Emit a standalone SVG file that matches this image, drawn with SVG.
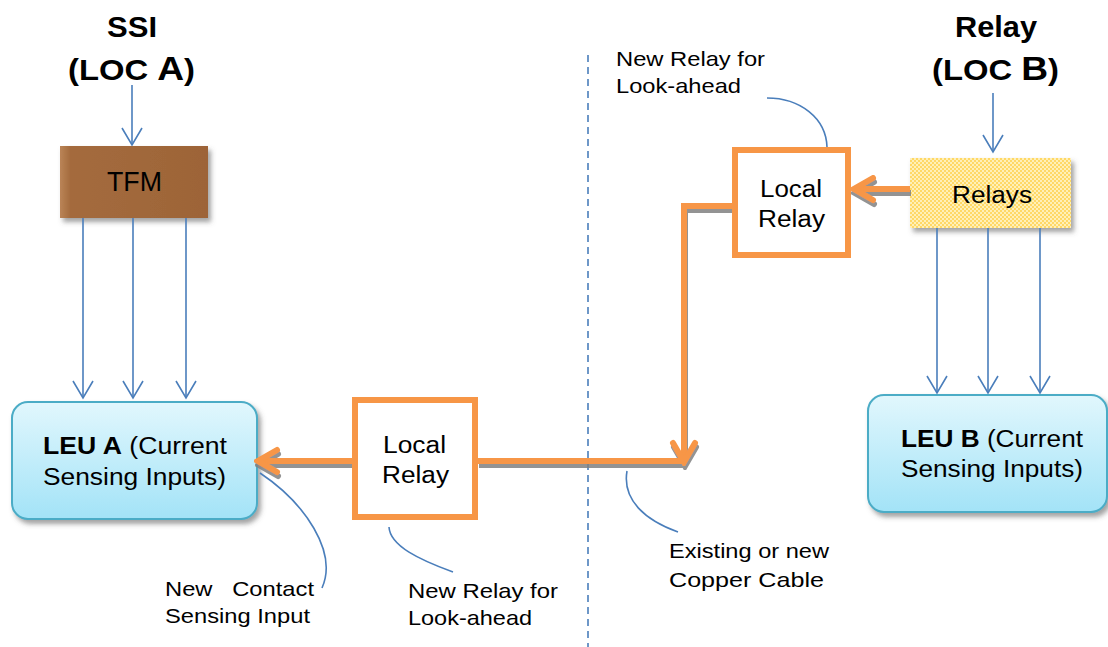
<svg xmlns="http://www.w3.org/2000/svg" width="1108" height="647" viewBox="0 0 1108 647">
  <defs>
    <style>
      text { font-family: "Liberation Sans", Arial, sans-serif; fill: #000; }
      .title { font-size: 30px; font-weight: bold; }
      .lbl { font-size: 23.5px; }
      .note { font-size: 21px; white-space: pre; }
      .blue { stroke: #4A7EBB; stroke-width: 1.6; fill: none; }
      .leader { stroke: #4A7EBB; stroke-width: 1.6; fill: none; }
      .orange { stroke: #F79646; stroke-width: 6; fill: none; }
      .relaybox { fill: #fff; stroke: #F79646; stroke-width: 6; }
      .leu { fill: url(#leuFill); stroke: #4BACC6; stroke-width: 2; }
    </style>
    <linearGradient id="leuFill" x1="0" y1="0" x2="0" y2="1">
      <stop offset="0" stop-color="#E1F7FD"/>
      <stop offset="1" stop-color="#A3E3F7"/>
    </linearGradient>
    <linearGradient id="tfmFill" x1="0" y1="0" x2="1" y2="0">
      <stop offset="0" stop-color="#BA8457"/>
      <stop offset="0.07" stop-color="#A46B3E"/>
      <stop offset="1" stop-color="#9D6437"/>
    </linearGradient>
    <pattern id="dots" width="4" height="4" patternUnits="userSpaceOnUse">
      <rect width="4" height="4" fill="#FFD866"/>
      <rect width="2" height="2" fill="#FFF0B8"/>
      <rect x="2" y="2" width="2" height="2" fill="#FFF0B8"/>
    </pattern>
    <filter id="boxShadow" x="-10%" y="-10%" width="130%" height="140%">
      <feDropShadow dx="3" dy="4" stdDeviation="2.5" flood-color="#555" flood-opacity="0.55"/>
    </filter>
    <filter id="lineShadow" x="-5%" y="-5%" width="110%" height="120%">
      <feDropShadow dx="1" dy="4" stdDeviation="0.6" flood-color="#808080" flood-opacity="0.85"/>
    </filter>
    <marker id="blueHead" markerUnits="userSpaceOnUse" viewBox="-20 -12 22 24" refX="0" refY="0" markerWidth="22" markerHeight="24" orient="auto">
      <path d="M-17,-10 L0,0 L-17,10" fill="none" stroke="#4A7EBB" stroke-width="1.6"/>
    </marker>
    <marker id="orangeHead" markerUnits="userSpaceOnUse" viewBox="-26 -16 30 32" refX="0" refY="0" markerWidth="30" markerHeight="32" orient="auto">
      <path d="M-19,-11 L0,0 L-19,11" fill="none" stroke="#F79646" stroke-width="6" stroke-linejoin="miter" stroke-linecap="round"/>
    </marker>
  </defs>

  <rect width="1108" height="647" fill="#fff"/>

  <!-- site boundary -->
  <line x1="588" y1="55" x2="588" y2="647" stroke="#4A7EBB" stroke-width="1.6" stroke-dasharray="7 5"/>

  <!-- headings -->
  <g id="ssi-title">
    <text class="title" x="107" y="37" textLength="50" lengthAdjust="spacingAndGlyphs">SSI</text>
    <text class="title" x="68" y="80" textLength="127" lengthAdjust="spacingAndGlyphs">(LOC <tspan font-size="34">A</tspan>)</text>
  </g>
  <g id="relay-title">
    <text class="title" x="955" y="37" textLength="82" lengthAdjust="spacingAndGlyphs">Relay</text>
    <text class="title" x="932" y="80" textLength="127" lengthAdjust="spacingAndGlyphs">(LOC <tspan font-size="34">B</tspan>)</text>
  </g>

  <!-- nodes -->
  <g id="tfm">
    <rect x="60" y="146" width="148" height="72" fill="url(#tfmFill)" filter="url(#boxShadow)"/>
    <text x="107" y="191" font-size="27" textLength="55" lengthAdjust="spacingAndGlyphs">TFM</text>
  </g>

  <g id="relays">
    <rect x="910" y="158" width="161" height="70" fill="url(#dots)" filter="url(#boxShadow)"/>
    <text class="lbl" x="952" y="203" textLength="80" lengthAdjust="spacingAndGlyphs">Relays</text>
  </g>

  <g id="leu-a">
    <rect class="leu" x="12" y="402" width="245" height="117" rx="16" filter="url(#boxShadow)"/>
    <text class="lbl" x="43" y="454" textLength="184" lengthAdjust="spacingAndGlyphs"><tspan font-weight="bold">LEU A</tspan> (Current</text>
    <text class="lbl" x="43" y="485" textLength="183" lengthAdjust="spacingAndGlyphs">Sensing Inputs)</text>
  </g>

  <g id="leu-b">
    <rect class="leu" x="868" y="395" width="239" height="117" rx="16" filter="url(#boxShadow)"/>
    <text class="lbl" x="901" y="447" textLength="182" lengthAdjust="spacingAndGlyphs"><tspan font-weight="bold">LEU B</tspan> (Current</text>
    <text class="lbl" x="901" y="477" textLength="182" lengthAdjust="spacingAndGlyphs">Sensing Inputs)</text>
  </g>

  <!-- connectors -->
  <g id="connectors">
    <line class="blue" x1="132" y1="85" x2="132" y2="145" marker-end="url(#blueHead)"/>
    <line class="blue" x1="993" y1="93" x2="993" y2="152" marker-end="url(#blueHead)"/>

    <line class="blue" x1="83" y1="218" x2="83" y2="398" marker-end="url(#blueHead)"/>
    <line class="blue" x1="133" y1="218" x2="133" y2="398" marker-end="url(#blueHead)"/>
    <line class="blue" x1="186" y1="218" x2="186" y2="398" marker-end="url(#blueHead)"/>

    <line class="blue" x1="937" y1="228" x2="937" y2="393" marker-end="url(#blueHead)"/>
    <line class="blue" x1="988" y1="228" x2="988" y2="393" marker-end="url(#blueHead)"/>
    <line class="blue" x1="1040" y1="228" x2="1040" y2="393" marker-end="url(#blueHead)"/>

    <g filter="url(#lineShadow)">
      <path class="orange" d="M910,189 H854" marker-end="url(#orangeHead)"/>
      <path class="orange" d="M735,206 H684 V462" marker-end="url(#orangeHead)"/>
      <path class="orange" d="M686,461 H478"/>
      <path class="orange" d="M352,461 H258" marker-end="url(#orangeHead)"/>
    </g>
  </g>

  <g id="local-relay-a">
    <rect class="relaybox" x="355" y="400" width="120" height="117"/>
    <text class="lbl" x="383" y="453" textLength="63" lengthAdjust="spacingAndGlyphs">Local</text>
    <text class="lbl" x="382" y="483" textLength="67" lengthAdjust="spacingAndGlyphs">Relay</text>
  </g>

  <g id="local-relay-b">
    <rect class="relaybox" x="735" y="150" width="113" height="105"/>
    <text class="lbl" x="760" y="197" textLength="62" lengthAdjust="spacingAndGlyphs">Local</text>
    <text class="lbl" x="758" y="227" textLength="67" lengthAdjust="spacingAndGlyphs">Relay</text>
  </g>

  <!-- callouts -->
  <g id="note-new-relay-b">
    <path class="leader" d="M767,98 C800,98 826,118 827,147"/>
    <text class="note" x="616" y="66" textLength="149" lengthAdjust="spacingAndGlyphs">New Relay for</text>
    <text class="note" x="616" y="93" textLength="125" lengthAdjust="spacingAndGlyphs">Look-ahead</text>
  </g>

  <g id="note-contact-input">
    <path class="leader" d="M260,473 C305,503 338,552 322,588"/>
    <text class="note" x="165" y="596" textLength="149" lengthAdjust="spacingAndGlyphs">New   Contact</text>
    <text class="note" x="165" y="623" textLength="145" lengthAdjust="spacingAndGlyphs">Sensing Input</text>
  </g>

  <g id="note-new-relay-a">
    <path class="leader" d="M389,527 C390,546 420,560 453,572"/>
    <text class="note" x="408" y="598" textLength="150" lengthAdjust="spacingAndGlyphs">New Relay for</text>
    <text class="note" x="408" y="625" textLength="124" lengthAdjust="spacingAndGlyphs">Look-ahead</text>
  </g>

  <g id="note-cable">
    <path class="leader" d="M627,471 C622,500 645,520 678,532"/>
    <text class="note" x="669" y="558" textLength="160" lengthAdjust="spacingAndGlyphs">Existing or new</text>
    <text class="note" x="669" y="587" textLength="155" lengthAdjust="spacingAndGlyphs">Copper Cable</text>
  </g>
</svg>
